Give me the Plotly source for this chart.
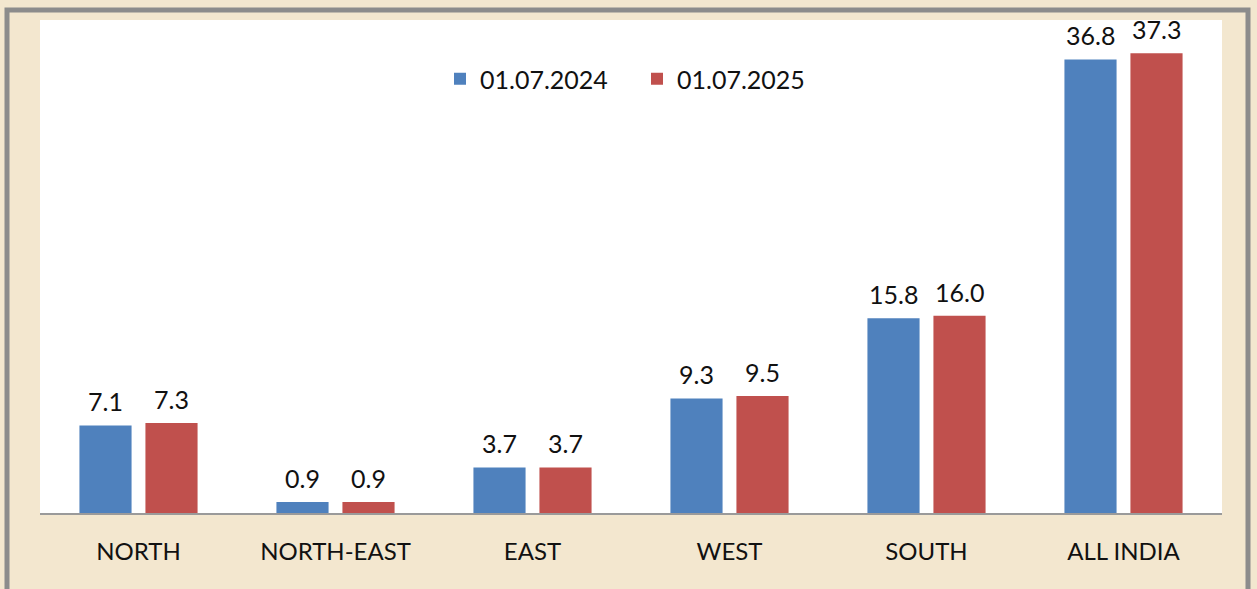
import plotly.graph_objects as go

categories = ["NORTH", "NORTH-EAST", "EAST", "WEST", "SOUTH", "ALL INDIA"]
series_names = ["01.07.2024", "01.07.2025"]
values_2024 = [7.1, 0.9, 3.7, 9.3, 15.8, 36.8]
values_2025 = [7.3, 0.9, 3.7, 9.5, 16.0, 37.3]
colors = ["#4F81BD", "#C0504D"]

W, H = 1257, 589
L, R, T, B = 40, 35, 20, 76
pw = W - L - R
ph = H - T - B

def px_x(p):
    return (p - L) / pw

def px_y(p):
    return (H - B - p) / ph

font_family = "Lato, 'Open Sans', sans-serif"

fig = go.Figure()
for name, vals, col in zip(series_names, [values_2024, values_2025], colors):
    fig.add_trace(go.Bar(
        x=categories, y=vals, name=name,
        marker=dict(color=col, line=dict(width=0)),
        cliponaxis=False,
    ))

annotations = []
for vals, xs in [(values_2024, -33), (values_2025, 33)]:
    for c, v in zip(categories, vals):
        annotations.append(dict(
            x=c, y=v, xref="x", yref="y", text=f"{v:.1f}", showarrow=False,
            xshift=xs, yshift=24, yanchor="middle",
            font=dict(size=25, color="#111111", family=font_family),
        ))

fig.update_layout(
    width=W, height=H,
    margin=dict(l=L, r=R, t=T, b=B, pad=0),
    paper_bgcolor="#F3E7CF",
    plot_bgcolor="#FFFFFF",
    barmode="group",
    bargap=0.33,
    bargroupgap=0.21,
    font=dict(family=font_family, size=24, color="#111111"),
    showlegend=True,
    legend=dict(
        orientation="h", x=px_x(440), y=px_y(79), xanchor="left", yanchor="middle",
        bgcolor="rgba(0,0,0,0)", font=dict(size=25, color="#111111"),
        itemwidth=30, traceorder="normal", entrywidth=152, entrywidthmode="pixels",
    ),
    xaxis=dict(
        showgrid=False, showline=True, linecolor="#9A9A9A", linewidth=2,
        ticks="", tickfont=dict(size=24, color="#111111"),
        ticklabelstandoff=16,
    ),
    yaxis=dict(
        range=[0, 40], showgrid=False, showline=False, zeroline=False,
        showticklabels=False, ticks="",
    ),
    annotations=annotations,
    shapes=[
        dict(type="rect", xref="paper", yref="paper",
             x0=px_x(7), x1=px_x(1248), y0=px_y(620), y1=px_y(10),
             line=dict(color="#8C8C8C", width=5), fillcolor="rgba(0,0,0,0)",
             layer="above"),
    ],
)

fig.write_html(
    "out.html",
    config={"displayModeBar": False},
    post_script="document.body.style.margin='0';document.body.style.background='#F3E7CF';",
)
